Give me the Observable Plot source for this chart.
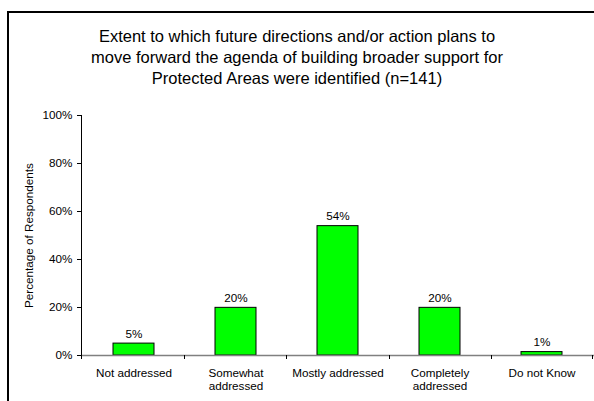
<!DOCTYPE html>
<html>
<head>
<meta charset="utf-8">
<script src="https://cdn.jsdelivr.net/npm/d3@7"></script>
<script src="https://cdn.jsdelivr.net/npm/@observablehq/plot@0.6"></script>
<style>
  html, body { margin: 0; padding: 0; background: #fff; overflow: hidden; }
  #wrap { position: relative; width: 594px; height: 401px; overflow: hidden; background: #fff; font-family: "Liberation Sans", Arial, sans-serif; color: #000; }
  #bl { position: absolute; left: 7px; top: 11px; width: 2px; height: 400px; background: #000; }
  #bt { position: absolute; left: 7px; top: 11px; width: 600px; height: 2px; background: #000; }
  #title { position: absolute; left: 0; top: 26px; width: 594px; text-align: center; font-size: 16.5px; line-height: 20.8px; }
  #chart { position: absolute; left: 0; top: 95px; width: 594px; height: 306px; }
</style>
</head>
<body>
<div id="wrap">
  <div id="bl"></div>
  <div id="bt"></div>
  <div id="title">Extent to which future directions and/or action plans to<br>move forward the agenda of building broader support for<br>Protected Areas were identified (n=141)</div>
  <div id="chart"></div>
</div>
<script>
// ---- data ----
const categories = ["Not addressed", "Somewhat addressed", "Mostly addressed", "Completely addressed", "Do not Know"];
const tickLabels = ["Not addressed", "Somewhat\naddressed", "Mostly addressed", "Completely\naddressed", "Do not Know"];
const percentages = [4.96, 19.86, 53.90, 19.86, 1.42];
const yTicks = [0, 20, 40, 60, 80, 100];
const yLabel = "Percentage of Respondents";

const data = categories.map((c, i) => ({cat: c, val: percentages[i], tick: tickLabels[i]}));

const FONT = "11.7px";

// y-axis line and category-boundary ticks on the x axis
function axisLines(index, scales, values, dim) {
  const g = d3.create("svg:g").attr("stroke", "#000").attr("stroke-width", 1);
  const x0 = dim.marginLeft, x1 = dim.width - dim.marginRight;
  const yb = dim.height - dim.marginBottom, yt = dim.marginTop;
  g.append("line").attr("x1", x0 + 0.5).attr("x2", x0 + 0.5).attr("y1", yt).attr("y2", yb);
  const n = categories.length;
  for (let i = 0; i < n; i++) {
    const x = Math.round(x0 + (x1 - x0) * i / n) + 0.5;
    g.append("line").attr("x1", x).attr("x2", x).attr("y1", yb).attr("y2", yb + 4);
  }
  g.append("line").attr("x1", x1 - 1.5).attr("x2", x1 - 1.5).attr("y1", yb).attr("y2", yb + 4);
  return g.node();
}

const chart = Plot.plot({
  width: 594,
  height: 306,
  marginLeft: 81,
  marginRight: 0,
  marginTop: 20,
  marginBottom: 46,
  style: {fontFamily: "'Liberation Sans', Arial, sans-serif", fontSize: FONT, color: "#000", background: "transparent"},
  x: {domain: categories, paddingInner: 0.6, paddingOuter: 0.3, axis: null},
  y: {domain: [0, 100], axis: null},
  marks: [
    Plot.axisY({ticks: yTicks, tickFormat: d => d + "%", tickSize: 4, tickPadding: 5, label: null, fontSize: FONT}),
    Plot.barY(data, {x: "cat", y: "val", fill: "#00ff00", stroke: "#000", strokeWidth: 1}),
    Plot.ruleY([0], {stroke: "#808080", strokeWidth: 1.5}),
    axisLines,
    Plot.text(data, {x: "cat", y: "val", text: d => Math.round(d.val) + "%", lineAnchor: "bottom", dy: -6, fontSize: FONT}),
    Plot.text(data, {x: "cat", y: () => 0, text: "tick", lineAnchor: "top", dy: 12, lineHeight: 1.14, fontSize: FONT}),
    Plot.text([yLabel], {text: d => d, frameAnchor: "left", textAnchor: "middle", rotate: -90, dx: -52.5, fontSize: FONT})
  ]
});
document.getElementById("chart").appendChild(chart);
</script>
</body>
</html>
